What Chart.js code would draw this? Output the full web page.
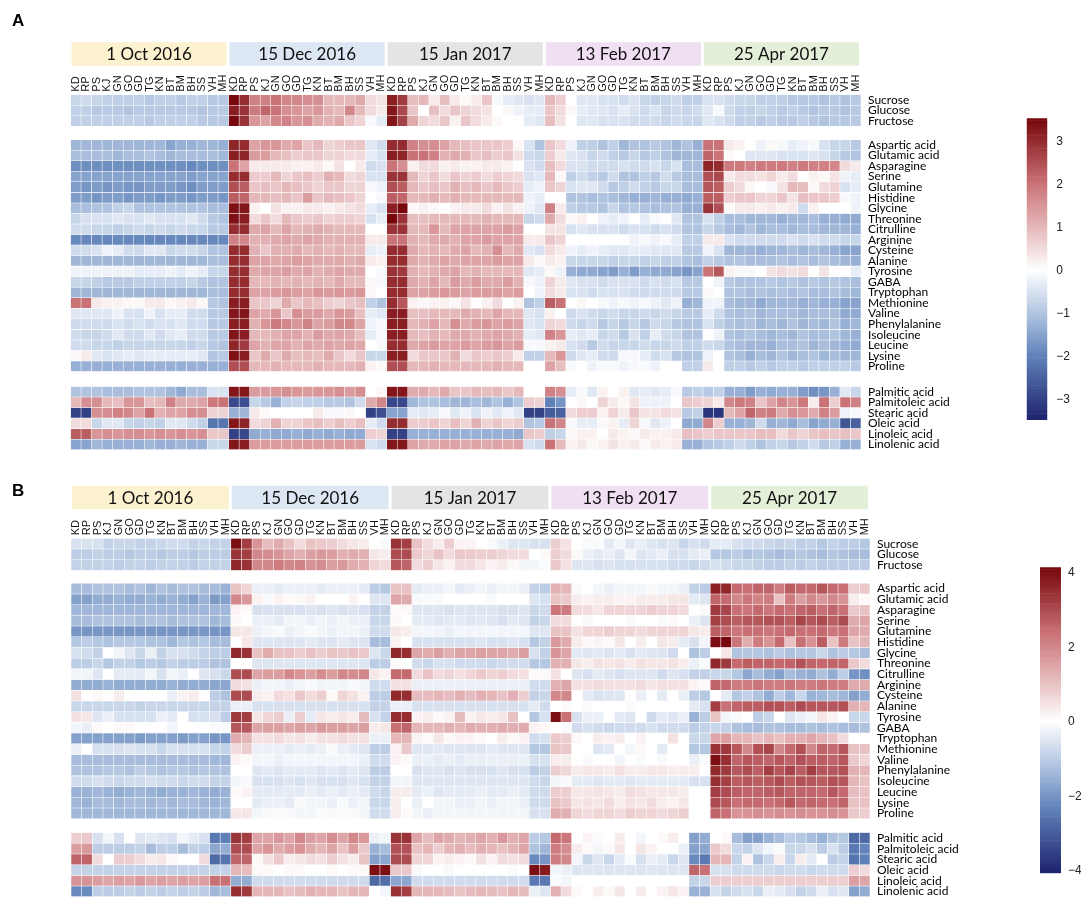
<!DOCTYPE html>
<html>
<head>
<meta charset="utf-8">
<script src="https://cdn.jsdelivr.net/npm/chart.js@4.4.1/dist/chart.umd.min.js"></script>
<style>
  body { margin: 0; background: #fff; }
  #page { position: relative; width: 1084px; height: 900px; overflow: hidden; }
  #page canvas { position: absolute; }
</style>
</head>
<body>
<div id="page">
  <canvas id="heatA" width="1000" height="460" style="left:0;top:0"></canvas>
  <canvas id="barA" width="84" height="340" style="left:1000px;top:100px"></canvas>
  <canvas id="heatB" width="1000" height="440" style="left:0;top:460px"></canvas>
  <canvas id="barB" width="84" height="350" style="left:1000px;top:540px"></canvas>
</div>
<script>
// sampling sites, repeated for every date
const sites = ['KD', 'RP', 'PS', 'KJ', 'GN', 'GO', 'GD', 'TG', 'KN', 'BT', 'BM', 'BH', 'SS', 'VH', 'MH'];
const dates = ['1 Oct 2016', '15 Dec 2016', '15 Jan 2017', '13 Feb 2017', '25 Apr 2017'];
const dateColours = ['#fcf2cf', '#dde7f3', '#e4e4e4', '#f0dff3', '#e4efda'];

const sugars = ['Sucrose', 'Glucose', 'Fructose'];
const aminoAcids = ['Aspartic acid', 'Glutamic acid', 'Asparagine', 'Serine', 'Glutamine', 'Histidine',
  'Glycine', 'Threonine', 'Citrulline', 'Arginine', 'Cysteine', 'Alanine', 'Tyrosine', 'GABA',
  'Tryptophan', 'Methionine', 'Valine', 'Phenylalanine', 'Isoleucine', 'Leucine', 'Lysine', 'Proline'];
const fattyAcids = ['Palmitic acid', 'Palmitoleic acid', 'Stearic acid', 'Oleic acid', 'Linoleic acid', 'Linolenic acid'];

// colour key ticks and extent
const ticksA = [3, 2, 1, 0, -1, -2, -3];
const ticksB = [4, 2, 0, -2, -4];
const rangeA = [-3.47, 3.54];
const rangeB = [-4.07, 4.15];

// z-scores, one row per metabolite, 75 columns = 5 dates x 15 sites
const sugarsA = [
  [-0.7,-0.6,-0.7,-0.8,-0.8,-0.8,-0.8,-0.9,-0.8,-0.8,-0.9,-0.8,-0.8,-0.9,-0.9, 3.5,3.0,1.8,1.8,2.0,1.7,1.7,1.6,1.6,1.0,1.0,1.0,1.2,0.5,0.4, 3.2,2.8,0.9,1.0,0.3,0.9,0.3,0.1,0.3,0.8,-0.1,-0.3,-0.4,-0.5,-0.4, 1.0,0.7,0.0,-0.4,-0.4,-0.5,-0.5,-0.6,-0.5,-0.7,-0.8,-0.7,-0.6,-0.8,-0.8, -0.5,-0.5,-0.6,-0.7,-0.7,-0.8,-0.8,-0.8,-0.9,-0.9,-0.9,-1.0,-0.9,-1.0,-0.9],
  [-0.8,-0.8,-0.9,-0.9,-0.9,-1.0,-0.9,-0.9,-0.9,-0.9,-0.9,-0.9,-1.0,-0.9,-0.9, 3.2,2.9,1.9,2.2,2.0,1.6,1.5,1.3,1.5,1.1,1.0,1.7,1.0,0.5,0.3, 3.3,2.6,0.8,0.0,0.9,0.5,0.8,0.6,0.5,0.4,0.0,0.1,-0.2,-0.3,-0.3, 0.8,0.5,0.1,-0.3,-0.4,-0.4,-0.5,-0.3,-0.5,-0.6,-0.5,-0.7,-0.6,-0.7,-0.6, -0.4,-0.1,-0.6,-0.8,-0.8,-0.7,-0.8,-0.9,-0.8,-0.9,-1.0,-0.9,-0.9,-1.0,-0.9],
  [-0.8,-0.8,-0.8,-0.8,-0.8,-0.8,-0.8,-0.9,-0.8,-0.8,-0.8,-0.8,-0.9,-0.9,-0.9, 3.5,2.9,1.5,1.3,1.7,1.8,1.5,1.6,1.2,1.1,1.2,0.8,0.6,-0.1,-0.3, 3.3,2.7,1.2,0.6,0.5,0.8,0.2,0.8,0.5,0.3,0.1,0.0,0.0,-0.3,-0.4, 0.9,0.4,0.0,-0.4,-0.4,-0.5,-0.5,-0.5,-0.6,-0.6,-0.6,-0.7,-0.6,-0.7,-0.7, -0.4,-0.5,-0.6,-0.8,-0.8,-0.9,-0.8,-0.9,-0.9,-0.8,-0.9,-1.0,-0.9,-0.9,-0.9]
];

const aminoA = [
  [-1.2,-1.2,-1.2,-1.2,-1.2,-1.2,-1.2,-1.2,-1.2,-1.5,-1.3,-1.3,-1.2,-1.2,-1.3, 3.1,3.0,1.3,1.5,1.5,1.2,1.3,0.8,1.0,0.6,0.7,0.8,0.8,-0.4,-0.6, 3.0,3.0,1.8,1.6,1.6,1.3,1.0,0.9,0.8,0.8,0.8,0.7,0.1,-0.5,-1.0, 0.8,0.5,-0.2,-0.8,-0.8,-1.0,-0.8,-1.2,-1.0,-1.0,-0.9,-1.0,-1.2,-1.0,-1.3, 2.0,2.0,0.3,0.2,0.0,-0.2,0.1,-0.1,-0.3,-0.2,-0.1,-0.5,-0.7,-0.7,-0.9],
  [-1.1,-1.1,-1.1,-1.1,-1.2,-1.1,-1.1,-1.0,-1.1,-1.2,-1.1,-1.1,-1.1,-1.1,-1.2, 3.2,3.1,1.4,1.4,1.0,0.9,0.7,0.8,0.8,0.6,0.6,0.5,0.5,-0.3,-0.5, 3.2,3.1,2.0,2.0,1.8,1.1,1.2,1.1,0.8,0.9,0.7,0.8,0.4,-0.6,-0.7, 0.7,0.3,-0.4,-0.5,-0.7,-0.6,-0.8,-0.9,-0.7,-0.9,-0.8,-1.0,-1.2,-1.2,-1.2, 2.2,2.0,0.1,0.0,-0.4,-0.4,-0.4,-0.5,-0.5,-0.5,-0.4,-0.5,-0.7,-0.9,-1.0],
  [-1.8,-1.8,-1.8,-1.8,-1.8,-1.8,-1.8,-1.8,-1.8,-1.8,-1.8,-1.9,-1.8,-1.8,-1.8, 2.0,1.3,0.3,0.3,0.3,0.3,0.2,0.2,0.3,0.1,0.4,0.0,0.3,-0.6,-0.5, 2.0,1.6,0.2,0.5,0.5,0.2,0.3,0.2,0.2,0.3,0.3,0.2,0.0,-0.5,-0.6, 0.9,0.5,-0.5,-0.5,-0.6,-0.6,-0.6,-0.5,-0.6,-0.6,-0.5,-0.7,-0.5,-1.1,-1.1, 3.1,3.0,1.9,1.9,1.8,1.9,1.9,1.9,1.8,1.9,1.8,1.8,1.7,0.5,0.3],
  [-1.5,-1.5,-1.5,-1.5,-1.5,-1.5,-1.5,-1.5,-1.5,-1.5,-1.5,-1.6,-1.5,-1.5,-1.5, 3.0,3.0,0.7,0.7,1.0,0.6,0.8,0.9,0.7,1.1,1.0,0.5,0.6,-0.5,-0.5, 2.9,2.9,1.0,0.6,0.8,0.5,0.8,0.6,0.7,0.5,0.7,0.6,0.5,-0.5,-0.4, 1.0,0.1,-0.8,-0.6,-0.8,-0.9,-0.6,-1.0,-1.0,-0.8,-0.9,-0.6,-0.9,-1.1,-1.1, 2.5,2.6,0.3,0.5,0.5,0.4,0.6,0.3,0.5,0.0,0.2,0.1,0.4,-0.2,-0.3],
  [-1.6,-1.7,-1.6,-1.7,-1.6,-1.7,-1.7,-1.6,-1.6,-1.6,-1.7,-1.8,-1.6,-1.6,-1.6, 2.5,2.3,0.8,0.9,0.8,1.0,0.9,0.8,0.6,0.8,0.8,0.6,0.6,-0.1,-0.2, 2.5,2.3,1.0,0.8,0.9,0.8,1.1,0.9,1.0,0.8,1.0,0.8,0.7,-0.3,-0.2, 0.8,0.6,-0.5,-0.4,-0.4,-0.6,-0.9,-0.8,-0.6,-0.8,-0.9,-0.7,-0.7,-1.1,-1.1, 2.4,2.3,0.7,0.5,0.1,0.0,-0.1,0.4,1.0,0.9,0.1,0.5,0.6,-0.5,-0.3],
  [-1.6,-1.6,-1.7,-1.6,-1.6,-1.7,-1.6,-1.6,-1.7,-1.6,-1.6,-1.7,-1.6,-1.6,-1.7, 2.3,2.2,1.0,1.0,0.9,1.0,0.8,1.4,0.8,1.0,0.9,0.8,0.6,0.0,-0.1, 2.3,2.2,1.0,1.0,1.1,1.0,1.1,1.0,1.0,1.0,1.0,1.0,1.0,-0.2,-0.3, 0.0,0.0,-1.0,-1.0,-1.1,-1.0,-1.1,-1.2,-1.3,-1.3,-1.2,-1.3,-1.3,-1.4,-1.3, 2.3,2.3,0.7,0.8,0.8,0.6,0.6,0.8,0.4,0.9,0.8,0.8,0.7,-0.1,-0.2],
  [-1.1,-1.1,-1.0,-1.0,-0.8,-0.7,-1.0,-1.0,-1.0,-1.0,-1.0,-1.0,-1.0,-1.1,-1.1, 3.4,3.3,0.2,0.0,0.4,0.2,0.2,0.3,0.3,0.2,0.3,0.4,0.5,-0.3,-0.5, 3.2,3.5,0.1,0.2,0.1,0.0,0.2,0.3,0.3,0.5,0.2,0.4,0.2,-0.2,-0.4, 1.8,0.3,-0.8,-0.9,-0.9,-1.0,-0.7,-1.0,-0.9,-1.0,-1.1,-1.0,-1.0,-1.3,-1.3, 2.9,2.5,0.1,0.3,0.3,0.2,0.3,0.2,0.3,-0.6,0.2,0.0,0.0,0.0,-0.2],
  [-0.7,-0.5,-0.5,-0.5,-0.4,-0.5,-0.5,-0.4,-0.5,-0.5,-0.5,-0.4,-0.6,-0.9,-1.0, 3.4,3.2,0.5,0.8,0.5,1.0,0.8,0.7,0.8,0.6,0.7,0.7,0.6,-0.5,-0.3, 3.6,2.9,0.9,0.9,1.0,1.0,1.0,1.0,1.0,1.1,1.0,1.0,1.0,-0.7,-0.6, 1.2,0.5,0.1,0.2,0.0,-0.2,-0.3,-0.2,0.0,-0.3,-0.1,0.0,-0.4,-1.0,-1.0, -0.5,-0.8,-1.1,-1.1,-1.2,-1.2,-1.2,-1.3,-1.2,-1.2,-1.1,-1.3,-1.3,-1.4,-1.4],
  [-0.6,-0.6,-0.7,-0.7,-0.8,-0.7,-0.6,-0.7,-0.6,-0.7,-0.6,-0.7,-0.7,-0.9,-0.9, 3.0,3.0,1.2,1.3,1.0,1.3,1.0,1.1,1.2,1.1,1.0,1.0,1.0,0.0,0.0, 2.9,2.9,1.0,1.0,1.5,1.0,1.3,1.3,1.3,1.3,1.3,1.4,1.3,0.0,0.0, 0.4,0.4,-0.5,-0.4,-0.5,-0.5,-0.5,-0.6,-0.5,-0.5,-0.6,-0.5,-0.6,-1.0,-1.0, -0.7,-0.9,-1.1,-1.2,-1.0,-1.2,-1.1,-1.1,-1.2,-1.1,-1.1,-1.2,-1.2,-1.2,-1.3],
  [-1.9,-1.9,-1.9,-1.9,-1.9,-1.9,-1.9,-1.9,-1.9,-1.9,-1.9,-1.9,-1.9,-1.9,-1.9, 1.8,1.7,1.1,1.1,1.2,1.3,1.2,1.3,1.2,1.1,1.1,1.1,1.1,0.3,0.3, 2.0,2.0,1.1,1.0,1.2,1.2,1.1,1.3,1.3,1.4,1.3,1.3,1.3,0.3,0.3, 0.8,0.6,0.0,0.0,0.0,0.0,0.0,0.0,-0.2,-0.1,-0.2,-0.1,-0.3,-0.8,-0.8, 0.3,0.3,-0.5,-0.6,-0.6,-0.6,-0.6,-0.6,-0.5,-0.6,-0.5,-0.6,-0.6,-0.7,-0.7],
  [-0.6,-0.6,-0.5,-0.2,-0.3,-0.6,-0.6,-0.4,-0.4,-0.7,-0.6,-0.6,-0.7,-1.0,-1.0, 3.0,3.0,1.1,0.8,1.1,1.1,1.2,1.0,1.1,1.0,1.1,1.0,1.0,-0.3,-0.2, 3.0,3.0,1.2,1.0,1.1,1.0,1.2,1.3,1.0,1.1,1.6,1.0,1.2,-0.4,-0.5, 0.5,0.3,-0.2,-0.3,-0.2,-0.3,-0.4,-0.4,-0.3,-0.3,-0.4,-0.4,-0.4,-0.9,-0.9, -0.2,-0.5,-1.2,-1.2,-1.2,-1.3,-1.2,-1.2,-1.1,-1.2,-1.1,-1.2,-1.3,-1.5,-1.5],
  [-1.2,-1.2,-1.2,-1.2,-1.2,-1.2,-1.2,-1.2,-1.2,-1.2,-1.2,-1.2,-1.2,-1.1,-1.1, 3.0,3.0,1.3,1.3,1.2,1.3,1.4,1.3,1.2,1.2,1.2,1.1,1.2,0.3,0.2, 3.0,3.0,1.2,1.1,1.2,1.3,1.2,1.3,1.3,1.3,1.4,1.3,1.3,0.3,0.1, 0.3,0.2,-0.7,-0.7,-0.7,-0.7,-0.8,-0.7,-0.7,-0.8,-0.7,-0.8,-0.8,-1.0,-1.1, -0.8,-0.9,-1.0,-1.0,-1.1,-1.1,-1.1,-1.0,-1.1,-1.0,-1.1,-1.0,-1.1,-1.2,-1.3],
  [-0.2,-0.2,-0.2,-0.2,-0.2,-0.2,-0.3,-0.3,-0.3,-0.2,-0.3,-0.2,-0.3,-0.7,-0.7, 3.0,3.0,1.2,1.3,1.3,1.4,1.2,1.3,1.1,1.2,1.3,1.2,1.2,0.0,-0.1, 2.9,2.8,1.1,1.0,1.1,1.2,1.3,1.0,1.1,1.0,1.0,1.0,1.0,-0.4,-0.3, 0.1,-0.2,-1.3,-1.4,-1.4,-1.5,-1.6,-1.3,-1.6,-1.3,-1.4,-1.4,-1.5,-1.7,-1.5, 2.0,2.4,0.2,-0.1,-0.1,0.0,0.4,0.5,0.4,0.5,0.0,0.4,0.0,0.0,-0.3],
  [-0.7,-0.7,-0.8,-0.9,-0.9,-0.9,-0.8,-0.8,-0.8,-0.8,-0.8,-0.7,-0.9,-1.0,-1.0, 3.0,3.0,1.0,1.0,1.1,1.0,1.1,1.0,1.1,1.0,1.2,1.0,1.0,0.1,-0.1, 3.0,3.0,1.2,1.1,1.3,1.0,1.4,1.2,1.4,1.2,1.2,1.4,1.1,-0.1,-0.2, 0.6,0.3,-0.4,-0.5,-0.5,-0.6,-0.5,-0.5,-0.5,-0.6,-0.5,-0.6,-0.5,-0.9,-0.9, 0.0,-0.2,-0.9,-1.0,-1.0,-1.0,-0.9,-1.0,-0.9,-1.0,-0.9,-1.0,-0.9,-1.0,-1.1],
  [-1.2,-1.2,-1.2,-1.2,-1.2,-1.2,-1.2,-1.2,-1.2,-1.2,-1.2,-1.2,-1.2,-1.1,-1.1, 3.0,3.0,1.3,1.3,1.4,1.5,1.4,1.3,1.5,1.4,1.5,1.4,1.5,0.1,0.0, 3.0,3.0,1.3,1.3,1.4,1.5,1.4,1.3,1.4,1.4,1.4,1.3,1.4,0.0,-0.2, 0.5,0.3,-0.5,-0.5,-0.6,-0.5,-0.5,-0.5,-0.6,-0.6,-0.6,-0.6,-0.6,-0.9,-0.9, 0.1,0.0,-1.0,-1.0,-1.1,-1.0,-1.1,-1.0,-1.1,-1.0,-1.1,-1.1,-1.0,-1.1,-1.2],
  [2.0,2.0,0.3,0.2,0.2,0.1,0.1,0.3,0.3,0.1,0.2,0.3,0.1,-0.9,-1.0, 3.2,3.2,0.8,0.8,0.6,1.2,0.8,1.0,0.9,0.7,0.6,0.8,0.9,-0.8,-1.0, 3.0,2.4,0.2,0.1,0.2,0.2,0.1,0.4,0.0,0.2,0.5,0.0,0.2,-1.0,-0.8, 2.3,2.0,0.0,0.1,0.0,-0.1,-0.2,-0.1,-0.2,-0.1,-0.2,-0.4,-0.2,-1.3,-1.2, -0.2,-0.2,-1.1,-1.2,-1.2,-1.4,-1.2,-1.2,-1.2,-1.3,-1.2,-1.3,-1.3,-1.5,-1.5],
  [-0.4,-0.4,-0.4,-0.4,-0.2,-0.5,-0.5,-0.2,-0.5,-0.3,-0.3,-0.6,-0.6,-0.9,-0.9, 3.3,3.3,1.3,1.2,1.5,0.8,1.6,1.4,1.4,1.2,1.5,1.4,0.9,-0.3,-0.4, 3.2,3.2,0.9,0.9,1.0,1.0,1.0,1.2,1.1,1.0,1.3,1.0,1.0,-0.4,-0.5, 0.2,0.0,-0.6,-0.5,-0.6,-0.7,-0.6,-0.7,-0.7,-0.6,-0.7,-0.6,-0.7,-0.9,-0.9, -0.3,-0.6,-1.0,-1.1,-1.0,-1.2,-1.1,-1.1,-1.1,-1.2,-1.1,-1.1,-1.1,-1.4,-1.4],
  [-0.6,-0.6,-0.6,-0.6,-0.5,-0.6,-0.5,-0.6,-0.5,-0.5,-0.4,-0.6,-0.6,-0.9,-0.9, 3.2,3.2,1.1,1.5,1.9,1.7,1.5,1.8,1.3,1.4,1.7,1.7,1.3,-0.2,-0.1, 3.2,3.2,1.0,1.1,1.3,1.0,1.6,1.2,1.4,1.5,1.3,1.4,1.3,-0.4,-0.5, 0.6,0.5,-0.6,-0.7,-0.6,-0.9,-0.7,-0.9,-0.7,-0.9,-0.6,-0.7,-0.9,-1.0,-1.0, -0.5,-0.8,-1.0,-1.1,-1.0,-1.2,-1.1,-1.2,-1.0,-1.2,-1.1,-1.2,-1.0,-1.3,-1.2],
  [-0.6,-0.7,-0.7,-0.6,-0.4,-0.6,-0.6,-0.4,-0.6,-0.4,-0.3,-0.6,-0.6,-0.9,-0.9, 3.3,3.2,1.0,1.0,1.1,1.3,1.3,1.1,1.4,1.2,1.3,1.2,0.9,-0.3,-0.1, 3.2,3.2,1.0,0.9,1.1,1.0,1.2,1.2,1.1,1.2,1.3,1.2,1.1,-0.3,-0.4, 1.8,1.5,-0.3,-0.4,-0.3,-0.7,-0.6,-0.9,-0.5,-0.8,-0.3,-0.6,-0.7,-1.0,-1.0, 0.0,-0.2,-1.0,-1.1,-1.0,-1.1,-1.2,-1.1,-1.2,-1.0,-1.1,-1.1,-1.0,-1.2,-1.3],
  [-0.6,-0.6,-0.7,-0.7,-0.8,-0.7,-0.7,-0.7,-0.7,-0.7,-0.7,-0.8,-0.7,-0.9,-1.0, 3.1,2.8,1.3,1.1,1.3,1.3,1.1,1.3,1.2,1.3,1.2,1.3,1.2,0.0,-0.1, 3.0,3.0,1.2,1.3,1.4,1.3,1.3,1.4,1.3,1.4,1.5,1.3,1.4,-0.1,-0.1, 0.2,0.3,-0.5,-0.6,-0.9,-0.6,-0.7,-0.7,-0.7,-0.6,-0.7,-0.7,-0.6,-0.8,-0.8, -0.6,-0.7,-1.0,-1.1,-1.2,-1.2,-1.3,-1.1,-1.1,-1.0,-1.2,-1.1,-1.2,-1.3,-1.4],
  [0.1,0.3,-0.4,-0.5,-0.4,-0.3,-0.4,-0.3,-0.3,-0.3,-0.3,-0.3,-0.4,-1.0,-0.9, 3.4,3.2,0.8,1.2,0.8,1.2,0.9,1.0,0.9,1.2,0.8,0.5,0.8,-0.7,-0.7, 3.2,3.2,0.5,0.8,0.8,0.8,1.1,0.5,0.8,0.7,0.8,0.7,0.3,-0.8,-0.8, 1.0,1.5,-0.6,-0.4,-0.3,-0.6,-0.6,-0.1,-0.1,-0.3,-0.6,-0.5,-0.9,-1.0,-1.0, -0.2,0.0,-1.0,-1.1,-1.3,-1.1,-1.2,-1.0,-1.2,-1.1,-1.0,-1.2,-1.1,-1.2,-1.2],
  [-1.3,-1.3,-1.3,-1.3,-1.3,-1.3,-1.3,-1.3,-1.3,-1.3,-1.3,-1.3,-1.3,-1.3,-1.3, 2.5,2.5,1.0,1.0,1.1,1.0,1.0,1.0,1.1,1.0,1.0,1.0,1.1,0.2,0.1, 2.5,2.5,1.0,1.0,1.1,1.0,1.0,1.0,1.0,1.0,1.1,1.0,1.0,0.0,0.0, 1.3,0.9,-0.1,0.0,-0.2,-0.1,-0.1,-0.2,-0.1,-0.1,-0.2,0.0,0.0,-0.8,-0.8, 0.3,0.0,-0.8,-0.8,-0.9,-0.8,-0.9,-0.8,-0.8,-0.9,-0.8,-0.8,-0.8,-0.8,-0.9]
];

const fattyA = [
  [-1.0,-1.0,-1.0,-1.1,-1.1,-1.1,-1.0,-1.0,-1.0,-1.2,-1.4,-1.1,-1.1,-0.5,-0.5, 3.3,3.3,1.4,1.4,1.5,1.6,1.5,1.4,1.5,1.5,1.6,1.4,1.6,0.0,0.1, 3.3,3.3,1.2,1.2,1.0,1.2,0.8,0.8,1.0,0.9,1.0,0.8,1.0,0.0,0.0, 1.8,1.6,-0.3,-0.1,-0.4,0.2,0.0,0.2,-0.4,-0.3,-0.4,-0.3,-0.1,-0.9,-0.8, -0.9,-0.8,-1.3,-1.3,-1.6,-1.3,-1.4,-1.3,-1.3,-1.6,-1.8,-1.7,-1.3,-0.4,-0.7],
  [1.0,1.6,1.6,1.0,0.9,1.5,1.5,0.9,1.0,1.8,1.2,1.2,1.3,1.9,2.0, -2.9,-2.8,-0.7,-0.9,-1.3,-0.8,-0.7,-0.8,-0.8,-0.9,-0.9,-1.0,-0.6,1.2,1.7, -2.9,-2.9,-1.2,-1.0,-1.0,-1.1,-1.2,-1.2,-1.1,-1.2,-1.0,-1.3,-1.0,0.7,0.6, -2.0,-1.7,0.0,0.1,0.0,0.6,0.3,0.1,0.4,-0.2,-0.2,-0.2,0.0,0.8,0.7, 0.6,0.3,1.7,1.9,1.8,0.8,1.3,1.7,1.5,1.9,0.3,2.0,0.7,2.0,1.8],
  [-3.0,-3.0,1.6,1.6,1.8,1.7,1.3,2.0,1.1,1.3,1.3,1.6,1.6,0.6,0.6, -1.3,-1.2,0.3,0.1,0.0,0.0,0.0,0.0,0.3,-0.1,-0.1,0.1,0.0,-3.0,-2.8, -1.5,-1.5,-0.3,-0.4,-0.3,-0.1,-0.4,-0.2,-0.5,-0.2,-0.4,-0.2,-0.4,-3.0,-3.0, -2.6,-2.5,0.5,0.7,0.7,0.2,0.6,0.3,0.8,0.4,0.4,0.5,0.4,-0.9,-0.8, -3.2,-3.2,1.0,1.3,2.2,1.8,1.9,1.2,1.6,1.5,1.2,1.8,1.4,-0.2,-0.1],
  [0.5,0.5,-0.7,-0.4,-0.4,-0.7,-0.8,-0.7,-0.8,-0.4,-0.4,-0.6,-0.8,-2.2,-2.2, 3.3,3.1,0.5,0.6,1.1,0.6,0.6,0.8,0.9,0.7,0.9,0.7,0.9,-0.3,-0.6, 3.0,3.0,0.7,0.7,0.8,0.6,0.9,0.6,1.1,0.6,0.8,0.6,0.7,-1.0,-0.9, 2.0,1.7,-0.1,-0.3,-0.3,0.1,0.2,-0.3,0.6,-0.1,-0.4,-0.2,0.0,-1.4,-1.4, 1.7,0.7,-1.3,-1.3,-1.2,-0.6,-1.3,-1.2,-1.4,-1.1,-1.5,-1.4,-1.3,-2.7,-2.5],
  [2.3,2.3,1.5,1.6,1.5,1.6,1.6,1.5,1.6,1.5,1.6,1.5,1.6,0.8,0.8, -3.0,-2.9,-1.4,-1.3,-1.4,-1.4,-1.3,-1.4,-1.3,-1.4,-1.3,-1.4,-1.4,0.7,0.6, -3.0,-3.0,-1.3,-1.3,-1.3,-1.3,-1.3,-1.3,-1.3,-1.3,-1.3,-1.3,-1.4,0.8,0.7, -0.8,-0.7,0.1,0.2,0.2,0.0,0.3,0.2,0.1,0.3,0.2,0.2,0.3,0.9,0.8, 0.7,0.8,0.8,0.8,0.8,0.9,0.9,0.5,0.8,0.6,0.8,0.9,0.8,0.9,0.8],
  [-1.5,-1.5,-1.2,-1.3,-1.3,-1.3,-1.3,-1.2,-1.3,-1.3,-1.2,-1.3,-1.3,-0.7,-0.7, 3.3,3.2,1.4,1.4,1.4,1.4,1.4,1.4,1.4,1.4,1.4,1.4,1.4,-0.5,-0.6, 3.3,3.3,1.3,1.2,1.2,1.3,1.3,1.2,1.3,1.2,1.3,1.2,1.3,-0.5,-0.6, 2.0,1.0,0.2,0.3,0.1,0.2,0.4,0.2,0.3,0.1,0.3,0.2,0.3,-1.3,-1.3, -1.0,-0.9,-0.8,-0.6,-0.8,-1.0,-0.8,-0.7,-0.9,-0.8,-0.6,-0.9,-0.8,-1.3,-1.3]
];

const sugarsB = [
  [-0.6,-0.6,-0.6,-0.9,-0.8,-0.8,-0.9,-0.9,-0.8,-0.7,-0.7,-0.9,-0.8,-0.9,-0.9, 4.0,3.2,1.8,1.1,1.4,1.0,0.6,1.0,0.9,0.8,0.6,0.4,0.3,0.0,-0.1, 3.4,3.2,1.0,0.6,0.3,0.8,0.2,0.2,0.0,-0.1,-0.3,-0.5,-0.5,-0.6,-0.6, 0.8,0.5,0.0,-0.1,-0.1,-0.4,-0.2,-0.5,-0.3,-0.5,-0.6,-0.5,-0.8,-0.6,-0.7, -0.4,-0.4,-0.6,-0.7,-0.7,-0.8,-0.9,-0.8,-1.0,-0.9,-1.1,-0.9,-1.0,-1.0,-1.1],
  [-1.0,-1.0,-0.9,-1.0,-1.0,-1.1,-1.0,-1.0,-1.1,-1.0,-1.0,-1.1,-1.0,-1.0,-1.0, 3.4,3.2,2.0,1.9,1.8,1.5,1.3,1.6,1.7,1.6,1.3,1.4,1.3,0.4,0.3, 3.0,3.0,0.9,0.7,1.0,0.6,0.9,0.9,0.8,0.8,0.7,0.6,0.6,0.0,0.1, 0.8,0.6,0.1,-0.3,-0.4,-0.3,-0.5,-0.2,-0.5,-0.4,-0.3,-0.6,-0.6,-0.4,-0.3, -1.1,-1.1,-1.0,-1.2,-1.1,-1.2,-1.3,-1.2,-1.1,-1.2,-1.3,-1.1,-1.2,-1.3,-1.3],
  [-0.9,-0.9,-0.9,-0.9,-1.0,-0.9,-0.9,-1.0,-0.9,-0.9,-0.9,-1.0,-0.9,-0.9,-0.9, 3.6,3.4,2.0,2.0,2.2,2.0,2.1,1.8,1.9,1.6,1.7,1.4,1.3,0.7,0.6, 2.8,2.6,0.6,0.8,0.4,0.2,0.6,0.6,0.4,0.2,0.3,0.1,-0.2,-0.2,-0.1, 0.9,0.5,-0.5,-0.5,-0.6,-0.5,-0.6,-0.6,-0.6,-0.6,-0.6,-0.7,-0.7,-0.8,-0.7, -0.6,-0.7,-0.8,-0.8,-0.9,-1.0,-1.0,-0.9,-1.0,-0.9,-1.0,-1.0,-1.0,-1.0,-1.0]
];

const aminoB = [
  [-1.3,-1.3,-1.2,-1.2,-1.2,-1.3,-1.2,-1.4,-1.2,-1.3,-1.2,-1.2,-1.3,-1.3,-1.5, 1.0,0.7,-0.3,-0.3,-0.4,-0.3,-0.3,-0.3,-0.4,-0.3,-0.3,-0.3,-0.4,-1.0,-1.1, 1.0,1.0,-0.4,-0.3,-0.3,-0.2,-0.4,-0.3,-0.2,-0.3,-0.2,-0.2,-0.3,-0.9,-1.0, 1.3,1.2,-0.1,0.0,-0.2,-0.3,-0.2,-0.2,-0.2,-0.1,-0.2,-0.2,-0.3,-0.9,-1.0, 3.7,3.6,2.5,2.4,2.6,2.6,2.2,2.7,2.5,2.5,2.8,2.5,2.4,0.8,0.9],
  [-1.8,-1.8,-1.6,-1.6,-1.5,-1.6,-1.6,-1.5,-1.6,-1.5,-1.6,-1.8,-1.5,-1.9,-1.8, 2.0,1.7,0.2,-0.1,0.2,0.1,0.1,0.2,0.0,0.0,0.0,0.2,0.0,-0.5,-0.5, 1.5,1.4,-0.1,-0.1,-0.1,0.0,0.0,0.0,0.0,-0.1,0.0,0.0,0.0,-0.5,-0.6, 1.0,0.9,0.3,0.2,0.3,0.3,0.2,0.2,0.3,0.3,0.3,0.4,0.4,-0.4,-0.5, 2.6,2.5,2.0,2.3,2.1,2.2,1.0,2.2,1.6,2.0,1.7,2.0,1.8,0.3,0.1],
  [-1.4,-1.4,-1.4,-1.4,-1.4,-1.4,-1.4,-1.4,-1.4,-1.4,-1.4,-1.4,-1.4,-1.4,-1.4, 0.2,0.1,-0.6,-0.6,-0.6,-0.6,-0.6,-0.5,-0.6,-0.5,-0.6,-0.5,-0.6,-0.9,-0.9, 0.1,0.1,-0.5,-0.5,-0.5,-0.6,-0.5,-0.5,-0.5,-0.5,-0.6,-0.6,-0.5,-0.8,-0.7, 2.3,2.2,0.6,0.6,0.4,0.7,0.7,0.7,0.7,0.8,0.7,0.7,0.6,0.0,0.1, 3.3,3.1,2.4,2.3,2.5,2.3,2.5,2.4,2.6,2.7,2.4,2.6,2.4,0.9,1.0],
  [-1.3,-1.3,-1.2,-1.2,-1.2,-1.2,-1.3,-1.2,-1.2,-1.3,-1.2,-1.2,-1.2,-1.4,-1.3, 0.1,0.0,-0.3,-0.3,-0.4,-0.2,-0.2,-0.3,-0.2,-0.3,-0.2,-0.3,-0.3,-0.8,-0.8, 0.1,0.0,-0.4,-0.4,-0.5,-0.4,-0.4,-0.5,-0.4,-0.5,-0.6,-0.4,-0.5,-0.9,-0.8, 0.6,0.6,0.0,-0.1,0.0,0.0,0.0,-0.1,0.0,0.0,-0.1,0.1,0.0,-0.3,-0.5, 3.2,3.0,2.7,2.8,2.8,2.9,2.9,2.7,3.1,2.8,3.0,2.7,3.0,1.4,1.5],
  [-2.0,-2.0,-2.0,-2.0,-2.0,-2.0,-2.0,-2.0,-2.0,-2.0,-2.0,-2.0,-2.0,-2.0,-2.0, 0.4,0.4,-0.3,-0.2,-0.1,-0.3,-0.2,-0.1,-0.2,-0.3,-0.2,-0.2,-0.3,-0.7,-0.7, 0.4,0.3,-0.2,-0.2,-0.2,-0.3,-0.2,-0.2,-0.2,-0.2,-0.2,-0.2,-0.2,-0.5,-0.5, 1.0,1.0,0.5,0.7,0.7,0.8,0.7,0.7,0.6,0.7,0.7,0.7,0.7,0.4,0.3, 2.7,2.6,2.3,2.4,2.4,2.3,2.4,2.5,2.4,2.4,2.5,2.3,2.4,1.5,1.4],
  [-1.1,-1.0,-1.1,-1.2,-1.1,-1.1,-1.1,-1.2,-1.2,-1.4,-1.1,-1.2,-1.1,-1.3,-1.3, 0.0,0.4,-0.5,-0.5,-0.5,-0.5,-0.5,-0.4,-0.5,-0.5,-0.4,-0.5,-0.5,-1.3,-1.3, 0.2,0.0,-0.6,-0.6,-0.6,-0.6,-0.6,-0.6,-0.5,-0.6,-0.6,-0.5,-0.6,-1.1,-0.9, 1.7,1.4,0.3,0.1,0.2,0.1,0.4,0.0,0.3,0.0,0.4,0.3,-0.4,-0.6,-0.2, 4.0,4.1,2.3,1.4,2.2,1.8,2.5,1.0,2.4,1.8,2.7,1.0,2.2,1.0,1.2],
  [-0.6,-0.7,-0.9,0.0,-0.2,-0.5,-0.8,-0.3,-0.9,-0.6,-0.6,-0.7,-0.9,-1.0,-1.0, 3.6,3.4,1.0,1.4,1.0,1.0,0.8,1.0,0.8,1.0,0.9,1.0,0.9,-0.5,-0.8, 3.6,3.5,1.5,1.4,1.6,1.3,1.5,1.5,1.6,1.5,1.5,1.4,1.6,-0.6,-0.9, 1.8,1.5,-0.4,-0.5,-0.4,-0.5,-0.4,-0.6,-0.4,-0.5,-0.5,-0.7,0.0,-1.2,-1.0, 0.0,0.4,-1.2,-1.1,-1.1,-1.2,-1.0,-1.2,-1.1,-1.1,-0.8,-1.2,-1.0,-1.1,-1.3],
  [-1.0,-1.0,-0.8,-1.1,-0.9,-0.9,-1.1,-1.0,-1.1,-0.9,-1.0,-1.0,-1.0,-1.2,-1.2, 0.0,0.0,-0.5,-0.5,-0.5,-0.5,-0.5,-0.5,-0.5,-0.5,-0.5,-0.5,-0.5,-1.0,-1.0, 0.1,0.0,-0.7,-0.8,-0.6,-0.6,-0.7,-0.7,-0.7,-0.8,-0.7,-0.7,-0.7,-1.1,-1.1, 1.3,1.3,0.4,0.3,0.5,0.4,0.5,0.3,0.5,0.4,0.4,0.5,0.3,-0.3,-0.1, 3.6,3.3,2.5,2.7,2.6,2.6,2.5,2.6,2.9,2.6,2.5,2.6,2.6,0.9,0.6],
  [-0.2,-0.2,-0.5,0.0,-0.4,-0.4,-0.4,-0.2,-0.6,-0.2,-0.3,0.0,-0.5,-0.6,-0.8, 3.0,3.0,1.5,1.6,1.6,2.0,1.8,1.6,1.9,1.6,2.0,1.9,2.0,0.4,0.2, 2.5,2.5,0.6,1.0,0.6,0.7,0.5,0.7,0.9,0.7,0.8,0.6,0.5,0.1,0.1, 0.5,0.0,-0.5,-0.6,-0.4,-0.5,-0.6,-0.5,-0.5,-0.5,-0.7,-0.5,-0.6,-0.9,-0.9, -0.8,-0.8,-1.1,-1.7,-1.3,-1.6,-1.8,-1.3,-1.5,-1.6,-1.2,-1.6,-1.0,-2.0,-2.1],
  [-1.6,-1.6,-1.6,-1.5,-1.6,-1.6,-1.6,-1.6,-1.6,-1.5,-1.6,-1.6,-1.6,-1.7,-1.7, 0.6,0.5,-0.3,-0.2,-0.2,-0.3,-0.2,-0.1,-0.2,-0.2,-0.2,-0.1,-0.2,-0.7,-0.7, 0.5,0.5,-0.3,-0.3,-0.3,-0.3,-0.3,-0.3,-0.3,-0.3,-0.3,-0.3,-0.3,-0.7,-0.7, 1.3,1.5,0.5,0.5,0.6,0.5,0.5,0.5,0.6,0.4,0.5,0.5,0.5,0.2,0.1, 2.6,2.5,2.2,2.2,2.3,2.2,2.2,2.3,2.2,2.2,2.3,2.2,2.2,1.4,1.4],
  [0.5,0.0,0.1,0.0,0.3,0.0,0.0,0.0,0.0,-0.3,0.2,0.3,0.0,-1.0,-1.2, 3.0,3.0,0.3,0.2,0.6,0.5,0.9,0.6,0.8,0.1,0.7,0.5,0.2,-1.0,-1.0, 3.6,3.5,1.1,1.1,1.2,1.1,1.3,1.1,1.3,1.2,1.0,1.3,0.8,-0.9,-0.8, 2.0,2.0,0.0,-0.4,-0.6,-0.5,-0.5,0.0,-0.3,0.0,-0.4,0.0,-0.3,-1.0,-1.1, 0.0,-0.4,-1.1,-0.9,-1.2,-1.6,-1.0,-1.4,-0.8,-1.5,-1.4,-1.3,-1.4,-1.8,-1.6],
  [-0.8,-0.8,-0.8,-0.8,-0.8,-0.8,-0.9,-0.8,-0.8,-0.8,-0.8,-0.8,-0.8,-0.9,-0.9, -0.3,-0.3,-0.6,-0.6,-0.6,-0.6,-0.6,-0.6,-0.6,-0.6,-0.6,-0.6,-0.6,-0.9,-0.9, -0.3,-0.3,-0.6,-0.6,-0.6,-0.6,-0.6,-0.6,-0.6,-0.6,-0.6,-0.6,-0.6,-0.4,-0.7, 0.0,0.1,0.0,-0.1,0.0,0.0,0.0,-0.1,0.0,0.0,0.0,0.0,0.0,-0.4,-0.6, 3.2,2.4,2.6,2.7,2.7,2.9,2.9,2.7,3.0,2.8,2.8,2.8,2.9,1.3,1.2],
  [0.5,0.4,-0.5,-0.3,-0.6,-0.6,-0.6,-0.6,-0.3,-0.4,0.0,-0.6,-0.6,-0.6,-1.0, 3.3,3.2,0.4,0.7,0.8,-0.3,0.8,-0.4,0.4,0.3,0.4,0.3,1.1,-0.6,-0.9, 3.5,3.5,0.2,0.3,0.1,0.2,1.1,0.2,0.4,0.3,0.4,1.0,0.0,-1.1,-0.6, 4.0,2.4,-0.6,-0.3,-0.3,0.0,-0.4,-0.5,0.0,-0.7,-0.4,-0.5,-0.3,-1.5,-1.0, 1.0,-0.2,-0.1,0.0,-1.0,-0.8,0.0,-0.5,-0.3,-0.2,0.4,0.2,0.0,-0.8,-0.8],
  [-0.2,-0.3,0.1,0.0,0.1,0.1,0.0,0.0,0.0,-0.2,0.0,0.0,0.0,-0.1,-0.1, 2.8,2.8,1.5,1.6,1.6,1.5,1.6,1.5,1.7,1.6,1.6,1.5,1.6,0.3,0.4, 2.4,2.6,1.2,1.2,1.2,1.3,1.2,1.4,1.3,1.3,1.4,1.3,1.4,0.2,0.1, 0.0,-0.1,-0.7,-0.6,-0.7,-0.8,-0.7,-0.7,-0.7,-0.6,-0.7,-0.7,-0.7,-1.0,-0.9, -0.8,-0.9,-1.2,-1.3,-1.3,-1.2,-1.2,-1.3,-1.3,-1.2,-1.3,-1.2,-1.3,-1.3,-1.2],
  [-1.8,-1.8,-1.8,-1.8,-1.8,-1.8,-1.9,-1.8,-1.8,-1.8,-1.9,-1.8,-1.8,-2.0,-2.0, 1.4,1.2,0.5,0.5,0.6,0.4,0.5,0.3,0.5,0.5,0.6,0.5,0.5,-0.3,-0.3, 1.2,1.2,0.2,0.1,0.4,0.1,0.2,0.2,0.1,0.0,0.3,0.1,0.2,-0.7,-0.6, 0.9,0.8,0.1,0.0,0.3,0.2,0.3,0.0,0.2,0.0,0.0,0.5,0.0,-0.8,-0.8, 1.5,1.6,1.2,1.2,1.0,1.2,1.0,1.3,1.3,1.5,1.2,1.0,0.6,0.0,0.0],
  [-0.3,0.0,-0.6,-0.6,-0.6,-0.5,-0.6,-0.6,-0.8,-0.6,-0.6,-0.6,-0.6,-0.8,-0.9, 0.6,0.8,-0.3,-0.3,-0.3,-0.4,-0.3,-0.4,-0.3,-0.1,-0.3,-0.4,-0.5,-1.0,-1.0, 0.2,0.9,-0.5,-0.5,-0.4,-0.5,-0.5,-0.5,-0.5,-0.4,-0.5,-0.5,-0.5,-1.1,-1.1, 1.0,0.9,0.0,0.0,-0.5,-0.4,0.0,-0.2,0.1,0.0,-0.4,0.0,0.0,-1.1,-1.1, 3.4,3.3,2.8,2.0,2.9,3.1,2.0,2.5,2.9,2.0,2.6,2.5,2.8,1.0,1.0],
  [-1.3,-1.3,-1.3,-1.3,-1.3,-1.3,-1.3,-1.3,-1.3,-1.3,-1.3,-1.3,-1.3,-1.4,-1.4, 0.2,0.1,-0.2,-0.2,-0.3,-0.2,-0.2,-0.2,-0.2,-0.2,-0.2,-0.2,-0.3,-0.7,-0.7, 0.2,0.1,-0.3,-0.3,-0.4,-0.3,-0.4,-0.3,-0.3,-0.3,-0.3,-0.3,-0.3,-0.6,-0.6, 0.3,0.3,0.0,-0.1,0.0,0.0,-0.2,0.0,-0.1,0.0,-0.1,0.0,0.0,-0.3,-0.1, 4.0,3.5,2.6,2.8,2.7,2.6,2.8,2.6,2.9,2.7,2.7,2.6,2.8,0.9,0.7],
  [-1.2,-1.2,-1.2,-1.1,-1.1,-1.2,-1.0,-1.1,-1.2,-1.1,-1.1,-1.2,-1.1,-1.2,-1.2, 0.0,0.0,-0.5,-0.4,-0.5,-0.4,-0.4,-0.4,-0.5,-0.4,-0.5,-0.4,-0.5,-1.0,-1.0, 0.0,0.0,-0.6,-0.5,-0.5,-0.6,-0.5,-0.6,-0.6,-0.6,-0.5,-0.6,-0.6,-1.0,-0.9, 0.8,0.7,0.3,0.4,0.4,0.3,0.5,0.3,0.3,0.4,0.4,0.3,0.3,0.3,0.0, 3.6,3.3,2.8,3.0,2.7,3.2,2.8,3.1,2.7,3.2,2.8,2.8,2.9,1.3,1.2],
  [-0.7,-0.7,-0.6,-0.7,-0.8,-0.7,-0.7,-0.6,-0.7,-0.7,-0.8,-0.7,-0.7,-0.9,-0.9, -0.2,-0.1,-0.6,-0.6,-0.6,-0.5,-0.6,-0.5,-0.6,-0.6,-0.6,-0.5,-0.6,-0.9,-0.9, -0.2,-0.2,-0.5,-0.5,-0.5,-0.5,-0.5,-0.5,-0.5,-0.5,-0.5,-0.5,-0.5,-0.7,-0.8, -0.2,-0.1,-0.4,-0.4,-0.5,-0.4,-0.4,-0.5,-0.4,-0.4,-0.4,-0.4,-0.4,-0.6,-0.6, 3.5,3.2,2.7,2.8,2.7,2.8,3.0,2.7,2.9,2.8,2.7,2.9,2.8,1.2,1.0],
  [-1.5,-1.5,-1.4,-1.5,-1.6,-1.5,-1.4,-1.5,-1.6,-1.5,-1.5,-1.4,-1.5,-1.6,-1.5, 0.1,0.2,-0.4,-0.4,-0.4,-0.4,-0.4,-0.3,-0.4,-0.3,-0.4,-0.3,-0.4,-0.7,-0.8, 0.3,0.3,-0.4,-0.3,-0.5,-0.4,-0.4,-0.4,-0.3,-0.4,-0.4,-0.3,-0.4,-0.7,-0.7, 0.8,0.8,0.4,0.4,0.5,0.4,0.3,0.6,0.5,0.4,0.4,0.4,0.3,0.0,0.0, 3.2,3.0,2.7,2.6,2.6,2.7,2.8,2.6,2.6,2.6,2.5,2.8,2.5,1.1,1.0],
  [-1.4,-1.5,-1.3,-1.3,-1.4,-1.3,-1.3,-1.4,-1.3,-1.4,-1.3,-1.3,-1.4,-1.5,-1.4, 0.0,0.0,-0.4,-0.3,-0.3,-0.4,-0.1,-0.2,-0.2,-0.3,-0.1,-0.3,-0.2,-0.8,-0.8, 0.3,0.0,-0.3,0.0,-0.2,-0.2,-0.3,-0.3,-0.2,-0.3,-0.2,-0.2,-0.3,-0.7,-0.7, 1.0,0.9,0.4,0.5,0.4,0.6,0.3,0.5,0.4,0.6,0.3,0.2,0.4,0.0,0.0, 3.0,2.8,2.4,2.5,2.5,2.4,2.5,2.8,2.5,2.6,2.5,2.4,2.6,1.0,1.0],
  [-1.4,-1.4,-1.4,-1.4,-1.4,-1.4,-1.4,-1.4,-1.4,-1.4,-1.4,-1.4,-1.4,-1.4,-1.4, 0.4,0.4,-0.2,-0.1,-0.1,-0.1,-0.2,-0.2,-0.1,-0.1,-0.1,-0.1,-0.2,-0.7,-0.7, 0.3,0.1,-0.2,-0.3,-0.2,-0.2,-0.2,-0.2,-0.2,-0.2,-0.2,-0.2,-0.2,-0.6,-0.6, 1.4,1.3,0.7,0.6,0.7,0.7,0.6,0.8,0.7,0.7,0.6,0.7,0.8,0.0,0.0, 2.6,2.4,1.8,1.8,1.9,1.8,1.9,1.8,1.9,1.8,1.8,1.9,1.8,0.9,0.8]
];

const fattyB = [
  [0.8,0.9,-0.6,-0.2,-0.6,0.0,-0.5,-0.4,-0.5,-0.6,-0.2,-0.4,-0.6,-2.5,-2.4, 3.4,3.2,1.5,1.5,1.7,1.5,2.0,1.6,1.5,1.9,1.5,2.0,1.7,-0.3,-0.2, 3.4,3.4,1.5,1.1,1.5,1.4,1.2,1.3,1.5,1.3,1.7,1.3,1.5,-1.0,-1.1, 2.5,2.3,0.0,0.2,-0.1,0.0,0.3,0.0,-0.2,0.0,0.1,0.3,0.0,-1.8,-1.6, 0.0,0.1,-1.3,-1.8,-1.8,-1.5,-1.3,-1.0,-1.1,-1.3,-1.5,-1.2,-1.1,-2.8,-2.8],
  [1.6,1.7,-1.0,-1.0,-1.0,-1.0,-0.9,-1.3,-1.0,-1.0,-1.3,-0.9,-1.0,-1.7,-1.6, 3.0,3.0,1.5,1.8,1.4,1.6,1.8,1.4,1.2,1.5,1.0,1.6,0.9,-1.5,-1.3, 2.9,2.9,1.0,1.2,0.8,1.2,1.3,1.1,1.3,1.2,1.0,1.2,1.5,-1.2,-1.4, 2.2,1.9,0.3,0.1,-0.2,0.1,0.4,0.0,0.4,0.2,0.0,0.0,-0.3,-1.8,-1.7, 0.9,0.6,-0.8,-0.9,-0.5,-0.2,-0.1,-0.8,-0.8,-0.6,-1.0,-0.6,-1.0,-2.5,-2.3],
  [2.6,2.6,0.6,0.0,0.8,0.8,0.6,0.3,0.4,0.1,0.0,0.0,0.6,-2.8,-2.6, 2.6,2.6,0.1,0.5,0.9,0.3,0.4,0.6,0.5,0.8,0.5,0.3,1.0,-1.8,-1.7, 3.0,3.0,0.7,0.7,0.2,0.3,0.2,0.1,0.5,0.2,0.6,0.5,0.6,-2.2,-2.0, 2.2,2.0,-0.2,-0.8,-0.5,-0.8,-0.4,-0.1,-0.6,-0.3,-0.4,-0.8,-0.5,-2.2,-2.5, 1.2,1.2,-0.9,0.2,-1.2,-0.8,0.3,-0.8,0.3,-0.4,0.0,-1.0,-0.9,-2.6,-2.4],
  [-0.9,-0.9,-0.9,-0.9,-0.9,-0.9,-0.9,-0.9,-0.9,-0.9,-0.9,-0.9,-0.9,-0.9,-0.9, 1.2,1.1,0.1,0.1,0.0,0.1,0.1,0.0,0.0,0.1,0.0,0.1,0.1,4.0,4.0, 0.9,0.9,-0.1,0.0,0.0,-0.1,0.0,0.0,0.0,0.0,0.0,-0.1,0.0,4.0,3.8, -0.2,-0.3,-0.5,-0.5,-0.5,-0.5,-0.5,-0.5,-0.5,-0.5,-0.5,-0.5,-0.5,2.6,2.4, -0.6,-0.6,-0.7,-0.7,-0.7,-0.7,-0.8,-0.7,-0.7,-0.8,-0.7,-0.7,-0.7,0.8,0.6],
  [1.8,1.8,1.6,1.5,1.6,1.5,1.7,1.5,1.6,1.5,1.6,1.5,1.6,2.4,2.4, -1.6,-1.6,-0.7,-0.7,-0.7,-0.7,-0.7,-0.7,-0.7,-0.7,-0.7,-0.7,-0.7,-2.8,-2.7, -1.7,-1.7,-0.7,-0.7,-0.7,-0.7,-0.7,-0.7,-0.7,-0.7,-0.7,-0.7,-0.7,-2.5,-2.5, -0.1,-0.2,0.0,0.0,0.0,0.0,0.0,0.0,0.0,0.0,0.0,0.0,0.0,-0.9,-0.8, 0.8,0.8,0.8,0.8,0.8,0.8,0.8,0.8,0.8,0.8,0.8,0.8,0.8,1.6,1.5],
  [-2.2,-2.2,-1.0,-1.0,-1.0,-0.9,-1.0,-0.9,-1.0,-0.9,-1.0,-0.9,-1.0,-1.4,-1.3, 3.5,3.3,1.2,1.2,1.2,1.0,1.1,1.3,1.2,1.2,1.0,1.2,1.2,0.0,-0.2, 3.4,3.2,1.2,1.2,1.2,1.1,1.0,1.1,1.2,1.1,1.0,1.2,1.1,-0.3,-0.5, 1.3,0.6,0.1,0.0,0.3,0.1,0.4,0.0,0.3,0.0,0.2,0.4,0.2,-1.5,-1.5, -0.6,-0.9,-0.7,-0.6,-0.8,-0.3,-0.4,-0.6,-0.9,-0.7,-0.3,-0.6,-0.5,-1.8,-1.6]
];

const metaboliteNames = [...sugars, ...aminoAcids, ...fattyAcids];
const columnLabels = dates.flatMap(() => sites);

// navy - white - dark red ramp, positions as a fraction of the key's extent
const ramp = [
  [-1, [30, 35, 110]], [-0.57, [97, 131, 186]], [-0.29, [176, 196, 224]], [0, [255, 255, 255]],
  [0.29, [228, 182, 184]], [0.57, [202, 114, 118]], [1, [118, 5, 10]]
];
function heatColour(v, range) {
  const t = Math.max(-1, Math.min(1, v >= 0 ? v / range[1] : v / -range[0]));
  let k = 1;
  while (k < ramp.length - 1 && t > ramp[k][0]) k++;
  const [t0, c0] = ramp[k - 1];
  const [t1, c1] = ramp[k];
  const f = (t - t0) / (t1 - t0);
  return 'rgb(' + c0.map((c, i) => Math.round(c + (c1[i] - c) * f)).join(',') + ')';
}

// top edge of each row in row units; the three classes are separated by a gap
function rowTops(gap1, gap2) {
  const tops = [];
  sugars.forEach((_, i) => tops.push(i));
  aminoAcids.forEach((_, i) => tops.push(sugars.length + gap1 + i));
  fattyAcids.forEach((_, i) => tops.push(sugars.length + gap1 + aminoAcids.length + gap2 + i));
  return tops;
}

const labelFont = { family: 'Lato, "Open Sans", sans-serif', size: 12 };
const axisFont = { family: '"Liberation Sans", Arial, sans-serif', size: 11, lineHeight: 1.2 };

// coloured date boxes above the site labels, plus the panel letter
const dateHeaders = {
  id: 'dateHeaders',
  afterDraw(chart, args, opts) {
    const { ctx, chartArea, scales: { x } } = chart;
    const half = (x.getPixelForValue(1) - x.getPixelForValue(0)) / 2;
    const y0 = chartArea.top - 52.5;
    const h = 23.5;
    ctx.save();
    dates.forEach((d, g) => {
      const x0 = x.getPixelForValue(g * sites.length) - half + 1;
      const x1 = x.getPixelForValue(g * sites.length + sites.length - 1) + half - 2;
      ctx.fillStyle = dateColours[g];
      ctx.fillRect(x0, y0, x1 - x0, h);
      ctx.fillStyle = '#111';
      ctx.font = '17px Lato, "Open Sans", sans-serif';
      ctx.textAlign = 'center';
      ctx.textBaseline = 'middle';
      ctx.fillText(d, (x0 + x1) / 2, y0 + h / 2 + 1);
    });
    ctx.font = 'bold 17px "Liberation Sans", Arial, sans-serif';
    ctx.textAlign = 'left';
    ctx.fillStyle = '#000';
    ctx.fillText(opts.letter, 12, opts.letterY);
    ctx.restore();
  }
};

function drawHeatmap(id, rows, range, layout) {
  const tops = rowTops(layout.gap1, layout.gap2);
  const span = tops[tops.length - 1] + 1;
  const datasets = rows.map((values, r) => ({
    label: metaboliteNames[r],
    data: values.map(() => [tops[r], tops[r] + 1]),
    backgroundColor: values.map(v => heatColour(v, range)),
    borderColor: 'rgba(255,255,255,0.14)',
    borderWidth: 0.6,
    borderSkipped: false,
    grouped: false,
    barPercentage: 1,
    categoryPercentage: 1
  }));

  new Chart(document.getElementById(id), {
    type: 'bar',
    data: { labels: columnLabels, datasets: datasets },
    options: {
      responsive: false,
      animation: false,
      layout: { padding: layout.padding },
      plugins: {
        legend: { display: false },
        tooltip: { enabled: false },
        dateHeaders: { letter: layout.letter, letterY: layout.letterY }
      },
      scales: {
        x: {
          position: 'top',
          grid: { display: false, drawTicks: false },
          border: { display: false },
          ticks: {
            autoSkip: false, minRotation: 90, maxRotation: 90, padding: 3,
            // rotated top labels are drawn one line height left of the tick
            labelOffset: 13.2, font: axisFont, color: '#111'
          },
          afterFit: s => { s.height = 28; s.paddingLeft = 0; s.paddingRight = 0; }
        },
        y: {
          position: 'right',
          reverse: true,
          min: 0,
          max: span,
          grid: { display: false, drawTicks: false },
          border: { display: false },
          afterBuildTicks: s => { s.ticks = tops.map(t => ({ value: t + 0.5 })); },
          ticks: { autoSkip: false, padding: 7, font: labelFont, color: '#000', callback: (v, i) => metaboliteNames[i] },
          afterFit: s => { s.width = layout.labelWidth; s.paddingTop = 0; s.paddingBottom = 0; }
        }
      }
    },
    plugins: [dateHeaders]
  });
}

function drawColourKey(id, range, ticks, layout) {
  const [lo, hi] = range;
  const steps = 140;
  const datasets = [];
  for (let i = 0; i < steps; i++) {
    const a = lo + (hi - lo) * i / steps;
    const b = lo + (hi - lo) * (i + 1) / steps;
    datasets.push({
      data: [[a, b]],
      backgroundColor: heatColour((a + b) / 2, range),
      borderWidth: 0,
      grouped: false,
      barPercentage: 1,
      categoryPercentage: 1
    });
  }
  new Chart(document.getElementById(id), {
    type: 'bar',
    data: { labels: ['key'], datasets: datasets },
    options: {
      responsive: false,
      animation: false,
      layout: { padding: layout.padding },
      plugins: { legend: { display: false }, tooltip: { enabled: false } },
      scales: {
        x: { display: false },
        y: {
          position: 'right',
          min: lo,
          max: hi,
          grid: { display: false, drawTicks: false },
          border: { display: false },
          afterBuildTicks: s => { s.ticks = ticks.map(value => ({ value })); },
          ticks: {
            padding: layout.tickPad,
            font: { family: '"Liberation Sans", Arial, sans-serif', size: 12 },
            color: '#222',
            callback: v => (v < 0 ? '\u2212' + Math.abs(v) : String(v))
          },
          afterFit: s => { s.width = layout.labelWidth; s.paddingTop = 0; s.paddingBottom = 0; }
        }
      }
    }
  });
}

drawHeatmap('heatA', [...sugarsA, ...aminoA, ...fattyA], rangeA, {
  padding: { left: 70.5, top: 66.7, right: 9, bottom: 10.3 },
  labelWidth: 130, gap1: 1.27, gap2: 1.42, letter: 'A', letterY: 21
});
drawHeatmap('heatB', [...sugarsB, ...aminoB, ...fattyB], rangeB, {
  padding: { left: 71, top: 50.3, right: 8, bottom: 3.2 },
  labelWidth: 122, gap1: 1.2, gap2: 1.3, letter: 'B', letterY: 31
});
drawColourKey('barA', rangeA, ticksA, {
  padding: { left: 26.7, top: 18.3, right: 2.7, bottom: 20 }, labelWidth: 34, tickPad: 9
});
drawColourKey('barB', rangeB, ticksB, {
  padding: { left: 40, top: 27.3, right: 3, bottom: 16.7 }, labelWidth: 20, tickPad: 7
});
</script>
</body>
</html>
